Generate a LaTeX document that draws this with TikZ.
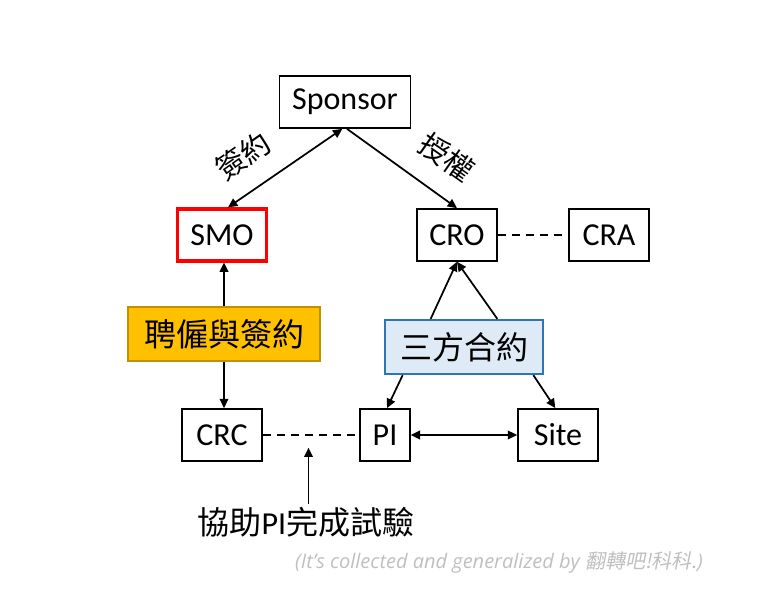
\documentclass[tikz,border=0pt]{standalone}
\usepackage{fontspec}
\setmainfont{Carlito}
\newfontfamily\cjk{Noto Sans CJK TC}
\newfontfamily\creditfont{Open Sans}
\newfontfamily\creditcjk[FakeSlant=0.2]{Noto Sans CJK TC}
\usetikzlibrary{arrows.meta}
\usetikzlibrary{calc}

\definecolor{smored}{HTML}{FF0000}
\definecolor{hirefill}{HTML}{FFC000}
\definecolor{hiredraw}{HTML}{BF9000}
\definecolor{trifill}{HTML}{DEEBF7}
\definecolor{tridraw}{HTML}{2E75B6}
\definecolor{creditgray}{HTML}{BFBFBF}

\tikzset{
  box/.style={draw, line width=1.3pt, inner xsep=9.5pt, minimum height=39pt, font=\fontsize{24}{28}\selectfont},
  wbox/.style={box, minimum width=60pt},
  oneway/.style={line width=1.3pt, arrows={-Triangle[length=7pt,width=6.5pt]}},
  twoway/.style={line width=1.3pt, arrows={Triangle[length=7pt,width=6.5pt]-Triangle[length=7pt,width=6.5pt]}},
  dashline/.style={line width=1.3pt, dash pattern=on 6pt off 4.5pt},
}

\begin{document}
\begin{tikzpicture}[x=0.75pt, y=-0.75pt]
  \useasboundingbox (0,0) rectangle (768,616);

  \node[box] (sponsor) at (345,102) {Sponsor};
  \node[box, draw=smored, line width=2.4pt, minimum width=67pt] (smo) at (222,235) {SMO};
  \node[wbox] (cro) at (457,235) {CRO};
  \node[wbox] (cra) at (609,235) {CRA};
  \node[box, fill=hirefill, draw=hiredraw, line width=1pt, inner xsep=12pt, minimum height=40.5pt, font=\cjk\fontsize{24}{28}\selectfont] (hire) at (224,334) {聘僱與簽約};
  \node[box, fill=trifill, draw=tridraw, line width=1.7pt, inner xsep=11.5pt, minimum height=40.5pt, font=\cjk\fontsize{24}{28}\selectfont] (contract) at (464,347) {三方合約};
  \node[wbox] (crc) at (222,435) {CRC};
  \node[box] (pi) at (385,435) {PI};
  \node[wbox] (site) at (558,435) {Site};

  \node[font=\cjk\fontsize{22}{26}\selectfont, rotate=35] (sign) at (243,156) {簽約};
  \node[font=\cjk\fontsize{22}{26}\selectfont, rotate=-35] (grant) at (447,157) {授權};

  \node[inner sep=2pt, font=\fontsize{24}{28}\selectfont] (help) at (306,522) {{\cjk 協助}PI{\cjk 完成試驗}};
  \node[inner sep=0pt, text=creditgray, font=\creditfont\itshape\fontsize{15}{18}\selectfont] (credit) at (499,562) {(It’s collected and generalized by {\creditcjk 翻轉吧!科科.})};

  \coordinate (mid) at ($(crc.east)!0.474!(pi.west)$);

  \draw[twoway] ([xshift=-2pt]sponsor.south) -- ([xshift=4.5pt]smo.north);
  \draw[oneway] ([xshift=1.5pt]sponsor.south) -- (cro.north);
  \draw[oneway] (hire.north) -- (hire.north |- smo.south);
  \draw[oneway] (hire.south) -- (hire.south |- crc.north);
  \draw[oneway] ([xshift=-25pt]contract.north) -- (cro.south);
  \draw[oneway] ([xshift=25pt]contract.north) -- (cro.south);
  \draw[oneway] ([xshift=-46pt]contract.south) -- ([xshift=1.5pt]pi.north);
  \draw[oneway] ([xshift=52pt]contract.south) -- ([xshift=-2pt]site.north);
  \draw[twoway] (pi.east) -- (site.west);
  \draw[dashline] (crc.east) -- (pi.west);
  \draw[dashline] (cro.east) -- (cra.west);
  \draw[oneway] (help.north -| mid) -- ([yshift=-9.5pt]mid);
\end{tikzpicture}
\end{document}
